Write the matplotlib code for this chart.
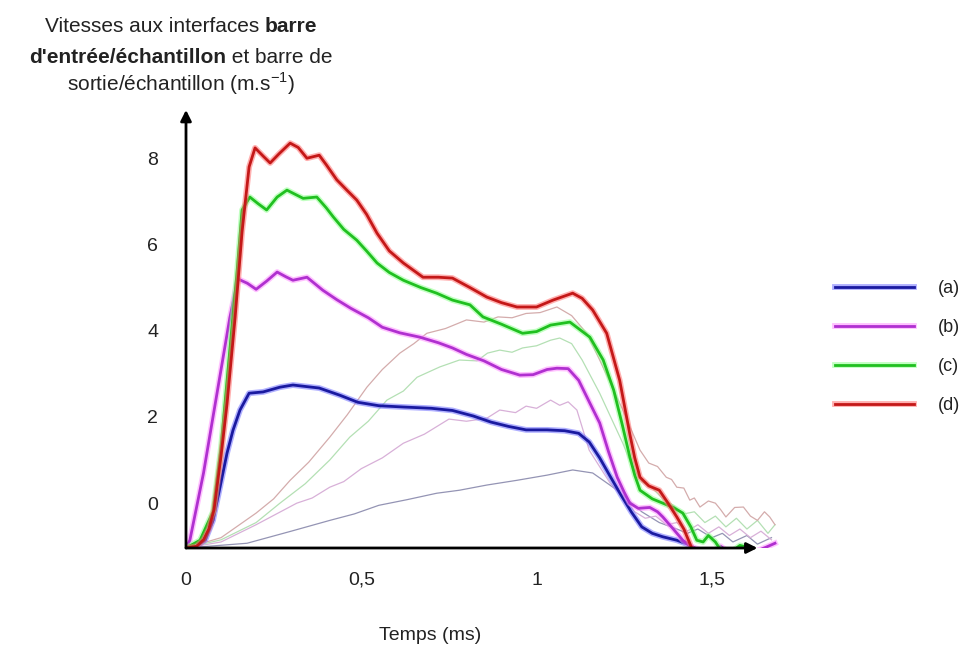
import numpy as np
import matplotlib.pyplot as plt
import matplotlib.patheffects as pe

plt.rcParams['font.family'] = ['Liberation Sans', 'DejaVu Sans']
plt.rcParams['mathtext.fontset'] = 'custom'
plt.rcParams['mathtext.rm'] = 'Liberation Sans'

# --- thick lines: input bar / sample interface ---
a_x = [0, 0.03, 0.055, 0.077, 0.097, 0.117, 0.134, 0.154, 0.18, 0.22, 0.268, 0.305, 0.38, 0.44,
       0.49, 0.55, 0.62, 0.70, 0.76, 0.82, 0.87, 0.92, 0.97, 1.03, 1.08, 1.12, 1.15, 1.18, 1.21,
       1.24, 1.27, 1.30, 1.33, 1.36, 1.40, 1.43, 1.46]
a_y = [-1.04, -1.0, -0.85, -0.4, 0.37, 1.16, 1.69, 2.16, 2.55, 2.58, 2.69, 2.74, 2.67, 2.5,
       2.34, 2.26, 2.23, 2.2, 2.15, 2.02, 1.88, 1.78, 1.7, 1.7, 1.68, 1.62, 1.42, 1.05, 0.62,
       0.2, -0.2, -0.55, -0.7, -0.78, -0.86, -0.95, -1.15]

b_x = [0, 0.011, 0.03, 0.05, 0.077, 0.10, 0.125, 0.148, 0.175, 0.2, 0.23, 0.26, 0.285, 0.305,
       0.345, 0.39, 0.43, 0.47, 0.52, 0.56, 0.61, 0.667, 0.72, 0.76, 0.80, 0.85, 0.90, 0.952,
       0.99, 1.03, 1.058, 1.09, 1.12, 1.152, 1.18, 1.205, 1.23, 1.25, 1.266, 1.29, 1.323, 1.345,
       1.36, 1.39, 1.417, 1.44, 1.47, 1.50, 1.525, 1.55, 1.60, 1.63, 1.655, 1.68]
b_y = [-1.04, -0.86, -0.1, 0.7, 2.0, 3.1, 4.3, 5.2, 5.1, 4.96, 5.15, 5.36, 5.25, 5.17,
       5.24, 4.94, 4.72, 4.52, 4.3, 4.08, 3.95, 3.85, 3.72, 3.6, 3.45, 3.3, 3.1, 2.97,
       2.98, 3.1, 3.13, 3.12, 2.85, 2.32, 1.86, 1.2, 0.6, 0.25, 0.0, -0.12, -0.1, -0.2,
       -0.32, -0.6, -0.86, -1.0, -1.1, -1.15, -1.0, -1.15, -1.15, -1.1, -1.02, -0.93]

c_x = [0, 0.02, 0.04, 0.06, 0.077, 0.10, 0.125, 0.145, 0.16, 0.182, 0.205, 0.23, 0.26, 0.288,
       0.334, 0.373, 0.40, 0.42, 0.45, 0.487, 0.515, 0.545, 0.58, 0.62, 0.67, 0.715, 0.76,
       0.81, 0.847, 0.90, 0.96, 1.0, 1.04, 1.095, 1.152, 1.19, 1.22, 1.245, 1.266, 1.28, 1.295,
       1.33, 1.36, 1.39, 1.417, 1.44, 1.457, 1.475, 1.49, 1.51, 1.53, 1.56, 1.58, 1.60, 1.62]
c_y = [-1.04, -0.95, -0.86, -0.5, -0.2, 1.3, 3.55, 5.3, 6.8, 7.1, 6.95, 6.8, 7.1, 7.26,
       7.07, 7.1, 6.85, 6.64, 6.35, 6.1, 5.85, 5.57, 5.35, 5.17, 5.0, 4.87, 4.71,
       4.6, 4.32, 4.15, 3.94, 3.98, 4.13, 4.2, 3.85, 3.32, 2.62, 1.8, 1.07, 0.65, 0.3,
       0.1, 0.0, -0.1, -0.23, -0.55, -0.86, -0.9, -0.75, -0.9, -1.15, -1.1, -0.98, -1.02, -1.15]

d_x = [0, 0.03, 0.05, 0.065, 0.08, 0.10, 0.117, 0.14, 0.16, 0.18, 0.197, 0.22, 0.24, 0.265,
       0.297, 0.32, 0.345, 0.38, 0.40, 0.43, 0.46, 0.487, 0.515, 0.545, 0.58, 0.62, 0.676,
       0.72, 0.76, 0.81, 0.858, 0.90, 0.944, 1.0, 1.047, 1.103, 1.13, 1.16, 1.2, 1.237, 1.266,
       1.28, 1.295, 1.32, 1.35, 1.375, 1.40, 1.42, 1.437, 1.45]
d_y = [-1.04, -1.0, -0.85, -0.6, -0.15, 1.1, 2.3, 4.3, 6.3, 7.8, 8.24, 8.05, 7.89, 8.1,
       8.35, 8.25, 8.0, 8.07, 7.85, 7.5, 7.25, 7.03, 6.7, 6.26, 5.85, 5.57, 5.24,
       5.24, 5.22, 5.0, 4.78, 4.65, 4.55, 4.55, 4.71, 4.87, 4.75, 4.48, 3.94, 2.85, 1.6,
       1.05, 0.6, 0.4, 0.3, 0.0, -0.32, -0.6, -0.93, -1.2]

# --- thin lines: output bar / sample interface ---
at_x = [0, 0.174, 0.30, 0.41, 0.48, 0.55, 0.63, 0.715, 0.78, 0.858, 0.944, 1.03, 1.103,
        1.16, 1.23, 1.30, 1.35, 1.40, 1.43, 1.46, 1.50, 1.53, 1.56, 1.60, 1.63, 1.67]
at_y = [-1.04, -0.93, -0.65, -0.4, -0.25, -0.05, 0.08, 0.23, 0.3, 0.42, 0.53, 0.65, 0.77,
        0.7, 0.3, -0.2, -0.45, -0.6, -0.7, -0.6, -0.8, -0.7, -0.9, -0.75, -0.95, -0.8]

bt_x = [0, 0.1, 0.2, 0.316, 0.36, 0.41, 0.45, 0.5, 0.56, 0.62, 0.68, 0.75, 0.8, 0.858,
        0.895, 0.94, 0.97, 1.0, 1.04, 1.066, 1.09, 1.115, 1.15, 1.21, 1.25, 1.28, 1.31, 1.34,
        1.37, 1.40, 1.43, 1.46, 1.49, 1.52, 1.55, 1.58, 1.61, 1.64, 1.67]
bt_y = [-1.04, -0.9, -0.5, 0.0, 0.12, 0.37, 0.5, 0.8, 1.05, 1.39, 1.6, 1.95, 1.9, 1.97,
        2.16, 2.1, 2.25, 2.2, 2.39, 2.27, 2.35, 2.16, 1.23, 0.46, 0.1, -0.2, -0.35, -0.3,
        -0.5, -0.45, -0.65, -0.5, -0.7, -0.55, -0.75, -0.6, -0.8, -0.65, -0.85]

ct_x = [0, 0.1, 0.2, 0.268, 0.34, 0.41, 0.467, 0.52, 0.573, 0.62, 0.659, 0.724, 0.78, 0.83,
        0.86, 0.895, 0.93, 0.96, 1.0, 1.04, 1.066, 1.10, 1.13, 1.18, 1.246, 1.27, 1.30, 1.33,
        1.36, 1.39, 1.42, 1.45, 1.48, 1.51, 1.54, 1.57, 1.60, 1.63, 1.66, 1.68]
ct_y = [-1.04, -0.85, -0.45, 0.0, 0.45, 1.0, 1.53, 1.9, 2.39, 2.6, 2.92, 3.16, 3.32, 3.3,
        3.48, 3.55, 3.5, 3.6, 3.65, 3.78, 3.83, 3.7, 3.32, 2.55, 1.39, 0.9, 0.5, 0.35,
        0.1, -0.05, -0.25, -0.2, -0.45, -0.3, -0.55, -0.35, -0.6, -0.4, -0.7, -0.5]

dt_x = [0, 0.1, 0.2, 0.25, 0.297, 0.35, 0.41, 0.46, 0.516, 0.56, 0.61, 0.65, 0.687, 0.74,
        0.8, 0.85, 0.89, 0.93, 0.97, 1.01, 1.058, 1.1, 1.143, 1.18, 1.246, 1.295, 1.32, 1.345,
        1.37, 1.385, 1.40, 1.42, 1.437, 1.45, 1.466, 1.49, 1.51, 1.525, 1.54, 1.565, 1.59,
        1.61, 1.63, 1.65, 1.665, 1.68]
dt_y = [-1.04, -0.8, -0.23, 0.1, 0.53, 0.95, 1.53, 2.05, 2.69, 3.1, 3.48, 3.7, 3.94, 4.05,
        4.25, 4.2, 4.32, 4.3, 4.4, 4.42, 4.55, 4.35, 3.94, 3.32, 2.16, 1.23, 0.93, 0.85,
        0.6, 0.55, 0.37, 0.35, 0.07, 0.12, -0.09, 0.05, 0.0, -0.15, -0.32, -0.1, -0.09,
        -0.3, -0.4, -0.2, -0.32, -0.5]

labels = ['(a)', '(b)', '(c)', '(d)']
thick_colors = ['#1a1aa0', '#b030d0', '#20c020', '#c41818']
halo_colors = ['#7070ff', '#ff90ff', '#90ff90', '#ff7070']
thin_colors = ['#9494b4', '#d8b0d8', '#b4e0b4', '#d4acac']

yticks = [0, 2, 4, 6, 8]
xticks = [0, 0.5, 1, 1.5]
xticklabels = ['0', '0,5', '1', '1,5']

W, H = 962, 646
fig = plt.figure(figsize=(W / 100, H / 100), dpi=100)
ax = fig.add_axes([186 / W, (H - 548) / H, 603 / W, 441.5 / H])
ax.set_xlim(0, 1.72)
ax.set_ylim(-1.04, 9.2)
for s in ax.spines.values():
    s.set_visible(False)

thin = [(at_x, at_y), (bt_x, bt_y), (ct_x, ct_y), (dt_x, dt_y)]
thick = [(a_x, a_y), (b_x, b_y), (c_x, c_y), (d_x, d_y)]

for (x, y), col in zip(thin, thin_colors):
    ax.plot(x, y, color=col, lw=0.9, zorder=1)

handles = []
for (x, y), col, hal, lab in zip(thick, thick_colors, halo_colors, labels):
    ln, = ax.plot(x, y, color=col, lw=2.0, zorder=3, label=lab,
                  path_effects=[pe.Stroke(linewidth=4.2, foreground=hal, alpha=0.55), pe.Normal()])
    handles.append(ln)

# axes with arrows
ax.annotate('', xy=(0, 9.12), xytext=(0, -1.04), annotation_clip=False,
            arrowprops=dict(arrowstyle='-|>', color='black', lw=2, mutation_scale=16,
                            shrinkA=0, shrinkB=0), zorder=5)
ax.annotate('', xy=(1.63, -1.04), xytext=(0, -1.04), annotation_clip=False,
            arrowprops=dict(arrowstyle='-|>', color='black', lw=2, mutation_scale=16,
                            shrinkA=0, shrinkB=0), zorder=5)

ax.set_yticks(yticks)
ax.set_yticklabels([str(v) for v in yticks])
ax.set_xticks(xticks)
ax.set_xticklabels(xticklabels)
ax.tick_params(axis='both', length=0, labelsize=14, labelcolor='#222222')
ax.tick_params(axis='y', pad=20)
ax.tick_params(axis='x', pad=17)

fig.text(430 / W, 1 - 636 / H, 'Temps (ms)', ha='center', va='center', fontsize=14, color='#222222')

leg = fig.legend(handles, labels, loc='upper left', bbox_to_anchor=(835 / W, 1 - 280 / H),
                 frameon=False, fontsize=13, handlelength=4.4, handletextpad=1.3,
                 labelspacing=1.22, borderpad=0, borderaxespad=0)
for t in leg.get_texts():
    t.set_color('#222222')

# title made of normal and bold pieces
title_lines = [
    ([('Vitesses aux interfaces ', 'normal'), ('barre', 'bold')], 32),
    ([("d'entrée/échantillon", 'bold'), (' et barre de', 'normal')], 63),
    ([('sortie/échantillon (m.s$^{\\mathregular{-1}}$)', 'normal')], 91),
]
renderer = fig.canvas.get_renderer()
for parts, ypix in title_lines:
    texts = [fig.text(0, 1 - ypix / H, s, fontweight=w, fontsize=15, color='#222222',
                      ha='left', va='baseline') for s, w in parts]
    widths = [t.get_window_extent(renderer).width for t in texts]
    x = 181 - sum(widths) / 2
    for t, w in zip(texts, widths):
        t.set_x(x / W)
        x += w

fig.savefig('out.png', dpi=100)
